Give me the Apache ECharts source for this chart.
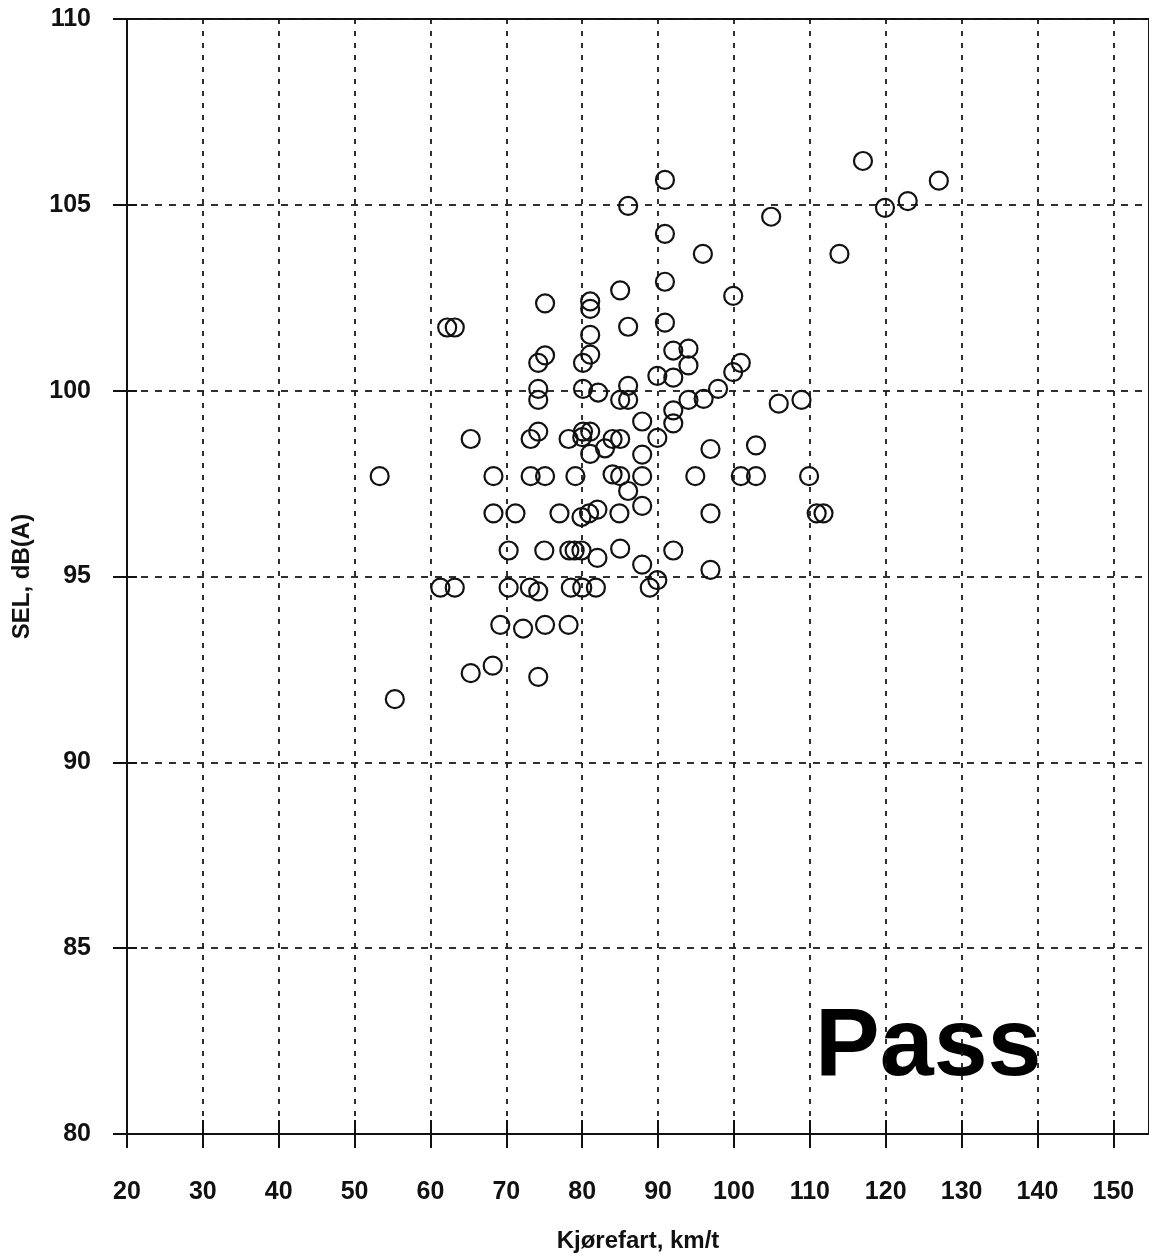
<!DOCTYPE html>
<html>
<head>
<meta charset="utf-8">
<script src="https://cdn.jsdelivr.net/npm/echarts@6/dist/echarts.min.js"></script>
<style>
html,body{margin:0;padding:0;background:#fff;}
#chart{width:1149px;height:1258px;}
</style>
</head>
<body>
<div id="chart"></div>
<script>
// Data: speed (km/t) vs SEL dB(A)
const speed = [53.3,55.3,62.2,63.2,65.3,61.3,63.2,65.3,68.2,68.3,68.3,69.2,70.3,70.3,71.2,72.2,73.2,73.2,73.1,74.2,
74.2,74.2,74.2,74.2,74.2,75.1,75.1,75.1,75.0,75.1,77.0,78.3,79.0,79.9,78.5,80.0,81.8,78.2,78.2,79.1,
79.9,80.9,82.0,80.1,80.1,80.1,80.0,81.05,81.05,81.05,81.05,81.05,81.05,82.1,82.0,83.0,84.0,84.0,85.0,85.0,
85.0,85.0,84.9,85.0,86.05,86.05,86.05,86.05,86.05,87.9,87.9,87.9,87.9,87.9,88.9,89.9,89.9,89.9,90.9,90.9,
90.9,90.9,92.0,92.0,92.0,92.0,92.0,94.0,94.0,94.0,94.9,95.9,96.0,96.9,96.9,96.9,97.9,99.9,99.9,100.9,
100.9,102.9,102.9,104.9,105.9,108.9,109.9,110.9,111.8,113.9,117.0,119.9,122.9,127.0];
const sel = [97.7,91.7,101.7,101.7,98.7,94.7,94.7,92.4,92.6,97.7,96.7,93.7,95.7,94.7,96.7,93.6,98.7,97.7,94.7,94.6,
92.3,98.9,99.75,100.05,100.75,100.95,102.35,97.7,95.7,93.7,96.7,95.7,95.7,95.7,94.7,94.7,94.7,93.7,98.7,97.7,
96.6,96.7,96.8,100.05,100.75,98.9,98.75,102.4,102.2,101.5,100.97,98.9,98.3,99.95,95.5,98.45,98.7,97.75,102.7,99.75,
98.7,97.7,96.7,95.75,104.97,101.72,100.13,99.75,97.3,99.17,98.28,97.7,96.9,95.32,94.7,94.9,100.4,98.73,105.67,104.22,
102.93,101.83,101.08,100.35,99.47,99.12,95.7,101.13,100.68,99.75,97.7,103.68,99.78,98.43,96.7,95.18,100.05,102.55,100.5,100.75,
97.7,97.7,98.53,104.68,99.65,99.75,97.7,96.7,96.7,103.68,106.18,104.92,105.1,105.65];
const xTicks = [20,30,40,50,60,70,80,90,100,110,120,130,140,150];
const yTicks = [80,85,90,95,100,105,110];
const xTitle = 'Kjørefart, km/t';
const yTitle = 'SEL, dB(A)';
const panelLabel = 'Pass';

const points = speed.map((v, i) => [v, sel[i]]);
const font = '"Liberation Sans", Arial, Helvetica, sans-serif';
const chart = echarts.init(document.getElementById('chart'), null, {renderer: 'canvas'});

const xMin = xTicks[0], xInt = xTicks[1] - xTicks[0];
const yMin = yTicks[0], yMax = yTicks[yTicks.length - 1], yInt = yTicks[1] - yTicks[0];
const labelStyle = {color: '#111', fontFamily: font, fontSize: 25, fontWeight: 'bold'};

chart.setOption({
  animation: false,
  backgroundColor: '#fff',
  grid: {left: 127, top: 19, right: -2, bottom: 123, show: true, borderColor: '#111', borderWidth: 2, backgroundColor: 'transparent'},
  xAxis: [{
    type: 'value', min: xMin, max: 154.7, interval: xInt,
    axisLine: {show: true, onZero: false, lineStyle: {color: '#111', width: 2}},
    axisTick: {show: true, inside: false, length: 14, lineStyle: {color: '#111', width: 2}},
    axisLabel: Object.assign({margin: 46, showMaxLabel: false,
      formatter: v => xTicks.indexOf(v) >= 0 ? String(v) : ''}, labelStyle),
    splitLine: {show: true, lineStyle: {color: '#1a1a1a', width: 1.8, type: [5, 7]}},
    name: xTitle, nameLocation: 'middle', nameGap: 95,
    nameTextStyle: {color: '#111', fontFamily: font, fontSize: 24, fontWeight: 'bold'}
  }, {
    type: 'value', min: xMin, max: 154.7, interval: xInt, position: 'bottom', offset: 0,
    axisLine: {show: false},
    axisTick: {show: true, inside: true, length: 14, lineStyle: {color: '#111', width: 2}},
    axisLabel: {show: false}, splitLine: {show: false}
  }],
  yAxis: [{
    type: 'value', min: yMin, max: yMax, interval: yInt,
    axisLine: {show: true, onZero: false, lineStyle: {color: '#111', width: 2}},
    axisTick: {show: true, inside: false, length: 14, lineStyle: {color: '#111', width: 2}},
    axisLabel: Object.assign({margin: 36}, labelStyle),
    splitLine: {show: true, lineStyle: {color: '#1a1a1a', width: 1.8, type: [7, 7]}},
    name: yTitle, nameLocation: 'middle', nameGap: 93, nameRotate: 90,
    nameTextStyle: {color: '#111', fontFamily: font, fontSize: 24, fontWeight: 'bold'}
  }, {
    type: 'value', min: yMin, max: yMax, interval: yInt, position: 'left', offset: 0,
    axisLine: {show: false},
    axisTick: {show: true, inside: true, length: 10, lineStyle: {color: '#111', width: 2}},
    axisLabel: {show: false}, splitLine: {show: false}
  }],
  graphic: [{
    type: 'text', left: 815, top: 1000, silent: true,
    style: {text: panelLabel, fill: '#000', font: 'bold 97px ' + font}
  }],
  series: [{
    type: 'scatter', xAxisIndex: 0, yAxisIndex: 0,
    data: points, symbol: 'circle', symbolSize: 18,
    itemStyle: {color: 'rgba(0,0,0,0)', borderColor: '#111', borderWidth: 2.2, opacity: 1},
    emphasis: {disabled: true}
  }]
});
</script>
</body>
</html>
